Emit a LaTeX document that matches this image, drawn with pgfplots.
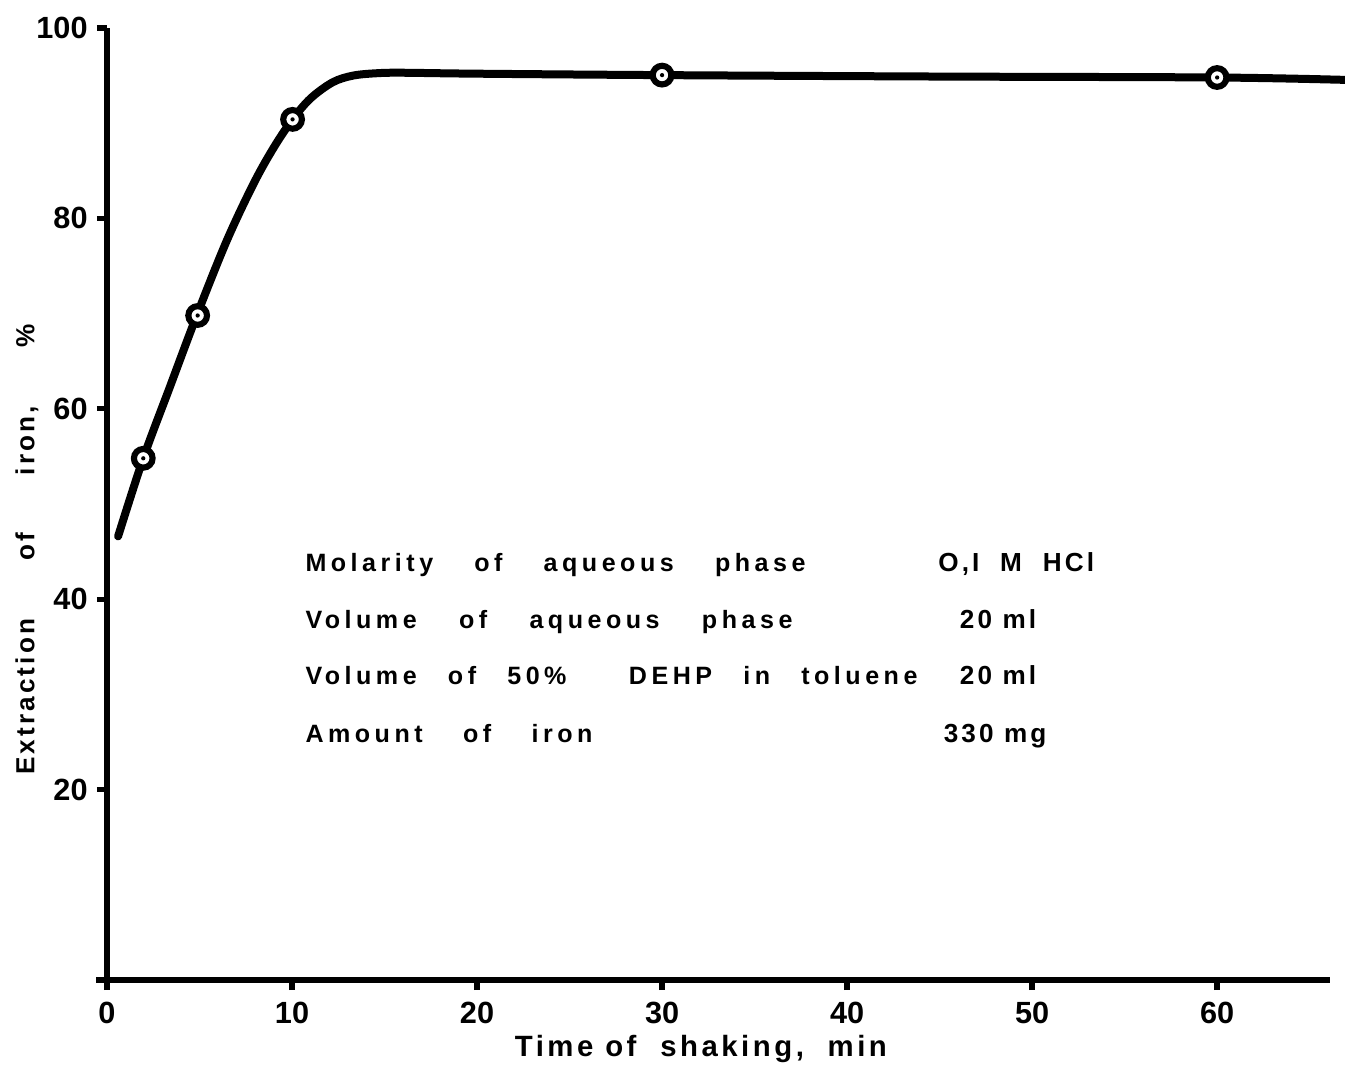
\documentclass[border=0pt]{standalone}
\usepackage{pgfplots}
\pgfplotsset{compat=1.18}
\usepackage{fontspec}
\setmainfont{Liberation Sans}
\newfontfamily\lblfont{Liberation Sans}[LetterSpace=12]
\newfontfamily\annfont{Liberation Sans}[LetterSpace=18]

\pgfdeclareplotmark{ringdot}{%
  \pgfsetlinewidth{2.3pt}%
  \pgfsetstrokecolor{black}%
  \pgfsetfillcolor{white}%
  \pgfpathcircle{\pgfpointorigin}{3.5pt}%
  \pgfusepath{fill,stroke}%
  \pgfsetfillcolor{black}%
  \pgfpathcircle{\pgfpointorigin}{0.8pt}%
  \pgfusepath{fill}%
}

\begin{document}
\begin{tikzpicture}
\begin{axis}[
  scale only axis,
  width=458.625pt, height=357pt,
  xmin=0, xmax=66.1, ymin=0, ymax=100,
  axis x line*=bottom, axis y line*=left,
  axis line style={line width=2pt, black},
  xtick={0,10,20,30,40,50,60},
  ytick={20,40,60,80,100},
  tick align=outside,
  major tick length=3.75pt,
  every tick/.style={line width=2pt, black},
  /pgf/number format/assume math mode=true,
  tick label style={font=\bfseries\fontsize{11.5}{12}\selectfont},
  xticklabel style={yshift=-1pt},
  xlabel={\lblfont\bfseries\fontsize{11}{12}\selectfont\hbox to 139.5pt{Time\hskip 0pt plus 1fill of\hskip 0pt plus 2fill shaking,\hskip 0pt plus 2fill min}},
  xlabel style={at={(axis description cs:0.4856,0)}, anchor=base, yshift=-28.5pt},
  ylabel={\lblfont\bfseries\fontsize{9.8}{12}\selectfont\hbox to 168.75pt{Extraction\hfill of\hfill iron,\hfill \%}},
  ylabel style={at={(axis description cs:0,0.452)}, anchor=center, yshift=30pt},
  clip=false,
]
\draw[line width=2pt] (axis cs:0,0) -- (axis cs:-0.6,0);
\addplot[line width=3pt, line cap=round, smooth, tension=0.55, black] coordinates {
  (0.6,46.6) (1.96,54.8) (3.4,62.3) (4.85,69.8) (6.46,77.6) (7.91,83.6)
  (9.0,87.4) (10.03,90.4) (11.0,92.6) (12.2,94.3) (13.3,95.0) (14.6,95.25)
  (16,95.3) (20,95.2) (30,95.05) (45,94.9) (60,94.8) (66.9,94.55)
};
\addplot[only marks, mark=ringdot, black] coordinates {
  (1.96,54.8) (4.9,69.8) (10.03,90.4) (30,95.05) (60,94.8)
};
\node[anchor=base west, inner sep=0pt] at (axis cs:10.7,42.96)
  {\annfont\bfseries\fontsize{9.4}{12}\selectfont\hbox to 187.5pt{Molarity\hfill of\hfill aqueous\hfill phase}};
\node[anchor=base west, inner sep=0pt] at (axis cs:10.7,36.97)
  {\annfont\bfseries\fontsize{9.4}{12}\selectfont\hbox to 182.6pt{Volume\hfill of\hfill aqueous\hfill phase}};
\node[anchor=base west, inner sep=0pt] at (axis cs:10.7,30.99)
  {\annfont\bfseries\fontsize{9.4}{12}\selectfont\hbox to 229.5pt{Volume\hfill of\hfill 50\%\hskip 0pt plus 2fill DEHP\hfill in\hfill toluene}};
\node[anchor=base west, inner sep=0pt] at (axis cs:10.7,25.0)
  {\annfont\bfseries\fontsize{9.4}{12}\selectfont\hbox to 107.6pt{Amount\hfill of\hfill iron}};
\node[anchor=base, inner sep=0pt] at (axis cs:49.14,42.96)
  {\lblfont\bfseries\fontsize{9.8}{12}\selectfont O,I\ \ M\ \ HCl};
\node[anchor=base, inner sep=0pt] at (axis cs:48.16,36.97)
  {\lblfont\bfseries\fontsize{9.8}{12}\selectfont 20 ml};
\node[anchor=base, inner sep=0pt] at (axis cs:48.16,30.99)
  {\lblfont\bfseries\fontsize{9.8}{12}\selectfont 20 ml};
\node[anchor=base, inner sep=0pt] at (axis cs:48.0,25.0)
  {\lblfont\bfseries\fontsize{9.8}{12}\selectfont 330 mg};
\end{axis}
\pgfresetboundingbox
\path[use as bounding box] ([shift={(-40.125pt,-31.5pt)}]current axis.south west) rectangle ([shift={(464.25pt,367.5pt)}]current axis.south west);
\end{tikzpicture}
\end{document}
